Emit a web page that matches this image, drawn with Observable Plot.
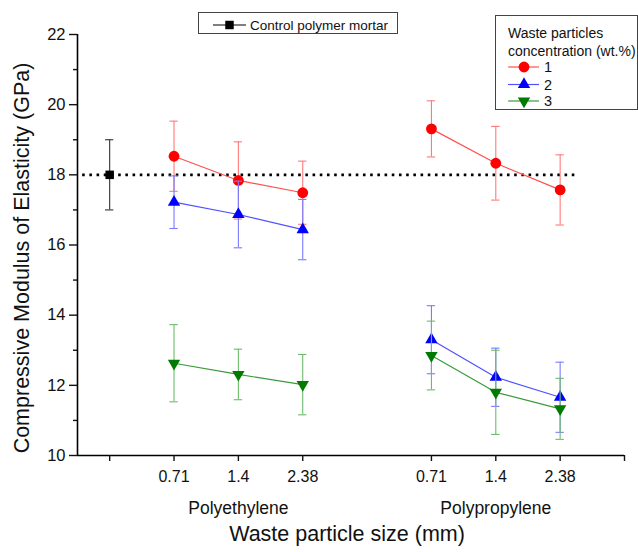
<!DOCTYPE html>
<html>
<head>
<meta charset="utf-8">
<script src="https://cdn.jsdelivr.net/npm/d3@7"></script>
<script src="https://cdn.jsdelivr.net/npm/@observablehq/plot@0.6"></script>
<style>
  html, body { margin: 0; padding: 0; background: #fff; }
  #chart { width: 638px; height: 552px; }
  svg { font-family: Arial, "Liberation Sans", sans-serif; }
</style>
</head>
<body>
<div id="chart"></div>
<script>
// ---- data ----
const materials = ["Polyethylene", "Polypropylene"];
const sizeLabels = ["0.71", "1.4", "2.38"];
const concentrations = ["1", "2", "3"];
const control = {value: 18.0, err: 1.0};
// mean values per concentration: [PE 0.71, PE 1.4, PE 2.38, PP 0.71, PP 1.4, PP 2.38]
const mean1 = [18.53, 17.84, 17.49, 19.31, 18.33, 17.57];
const err1  = [1.0, 1.1, 0.9, 0.8, 1.05, 1.0];
const mean2 = [17.22, 16.87, 16.44, 13.30, 12.23, 11.66];
const err2  = [0.75, 0.95, 0.86, 0.97, 0.83, 1.0];
const mean3 = [12.63, 12.31, 12.02, 12.85, 11.80, 11.33];
const err3  = [1.1, 0.72, 0.86, 0.98, 1.2, 0.87];
const yTicks = [10, 12, 14, 16, 18, 20, 22];
const yMinor = [11, 13, 15, 17, 19, 21];

// ---- styling ----
const markerColor = {"1": "#ff0000", "2": "#0000ff", "3": "#007a00"};
const lineColor = {"1": "#ff5050", "2": "#5050ff", "3": "#3a9a3a"};
const errColor = {"1": "#ff7a7a", "2": "#7a7aff", "3": "#6cbc6c"};
const symbolOf = {"1": "circle", "2": "triangle", "3": "triangle"};
const rotateOf = {"1": 0, "2": 0, "3": 180};

// slot positions on x: control at 1, PE sizes at 2..4, PP sizes at 6..8
const slotOf = (m, s) => (m === 0 ? 2 : 6) + s;

const means = [mean1, mean2, mean3];
const errs = [err1, err2, err3];
const rows = [];
concentrations.forEach((c, ci) => {
  materials.forEach((mat, mi) => {
    sizeLabels.forEach((sz, si) => {
      const k = mi * 3 + si;
      rows.push({conc: c, material: mat, size: sz, x: slotOf(mi, si),
        y: means[ci][k], lo: means[ci][k] - errs[ci][k], hi: means[ci][k] + errs[ci][k]});
    });
  });
});
const ctrl = [{x: 1, y: control.value, lo: control.value - control.err, hi: control.value + control.err}];
const xTickVals = [1, 2, 3, 4, 6, 7, 8, 9];
const xTickText = new Map();
materials.forEach((m, mi) => sizeLabels.forEach((s, si) => xTickText.set(slotOf(mi, si), s)));
const groupLabels = materials.map((m, mi) => ({x: slotOf(mi, 1), label: m}));

const cap = 0.065;
const marks = [
  // reference dotted line at control value
  Plot.ruleY([control.value], {x1: 0.58, x2: 8.23, stroke: "#000", strokeWidth: 2.6, strokeDasharray: "2.6,4.6"}),
  // axes lines
  Plot.ruleX([0.5], {y1: 10, y2: 22, stroke: "#000", strokeWidth: 1.6}),
  Plot.ruleY([10], {x1: 0.5, x2: 9, stroke: "#000", strokeWidth: 1.6}),
  Plot.axisY({ticks: yTicks, tickSize: 8, tickPadding: 4, label: null, tickFormat: d => d, strokeWidth: 1.4, fontSize: 16.5}),
  Plot.axisY({ticks: yMinor, tickSize: 4, tickFormat: () => "", label: null, strokeWidth: 1.4}),
  Plot.axisX({ticks: xTickVals, tickSize: 6, tickPadding: 9, label: null, fontSize: 16,
    tickFormat: d => xTickText.get(d) ?? "", strokeWidth: 1.4}),
  Plot.text(groupLabels, {x: "x", y: 10, text: "label", dy: 53, fontSize: 17.5, fill: "#111"}),
];
// per-series error bars, lines, markers
concentrations.forEach(c => {
  const data = rows.filter(r => r.conc === c);
  marks.push(
    Plot.ruleX(data, {x: "x", y1: "lo", y2: "hi", stroke: errColor[c], strokeWidth: 1.1}),
    Plot.ruleY(data, {y: "lo", x1: d => d.x - cap, x2: d => d.x + cap, stroke: errColor[c], strokeWidth: 1.1}),
    Plot.ruleY(data, {y: "hi", x1: d => d.x - cap, x2: d => d.x + cap, stroke: errColor[c], strokeWidth: 1.1}),
    Plot.line(data, {x: "x", y: "y", z: "material", stroke: lineColor[c], strokeWidth: 1.2}),
    Plot.dot(data, {x: "x", y: "y", symbol: symbolOf[c], r: c === "1" ? 5.4 : 4.6, rotate: rotateOf[c], fill: markerColor[c], stroke: "none"})
  );
});
// control
marks.push(
  Plot.ruleX(ctrl, {x: "x", y1: "lo", y2: "hi", stroke: "#333", strokeWidth: 1.1}),
  Plot.ruleY(ctrl, {y: "lo", x1: d => d.x - cap, x2: d => d.x + cap, stroke: "#333", strokeWidth: 1.1}),
  Plot.ruleY(ctrl, {y: "hi", x1: d => d.x - cap, x2: d => d.x + cap, stroke: "#333", strokeWidth: 1.1}),
  Plot.dot(ctrl, {x: "x", y: "y", symbol: "square", r: 4.8, fill: "#000"}),
  // axis titles
  Plot.text(["Compressive Modulus of Elasticity (GPa)"], {frameAnchor: "left", dx: -55, dy: 13, rotate: -90, textAnchor: "middle", fontSize: 21.5, fill: "#111", text: d => d}),
  Plot.text(["Waste particle size (mm)"], {frameAnchor: "bottom", dy: 85, dx: -4, fontSize: 21.5, fill: "#111", text: d => d})
);

const chart = Plot.plot({
  width: 638,
  height: 552,
  marginLeft: 77,
  marginRight: 14,
  marginTop: 34,
  marginBottom: 97,
  x: {domain: [0.5, 9], axis: null},
  y: {domain: [10, 22], axis: null},
  style: {background: "#fff", color: "#111", fontFamily: "Arial, 'Liberation Sans', sans-serif"},
  marks
});
document.getElementById("chart").appendChild(chart);

const svg = d3.select(chart);

// ---- legends (drawn into the same SVG) ----
const sym = (type, size) => d3.symbol(type, size)();
// control legend
const lg1 = svg.append("g").attr("text-anchor", "start");
lg1.append("rect").attr("x", 198.5).attr("y", 12.5).attr("width", 199).attr("height", 21)
  .attr("fill", "#fff").attr("stroke", "#444").attr("stroke-width", 1);
lg1.append("line").attr("x1", 213).attr("x2", 246).attr("y1", 25).attr("y2", 25).attr("stroke", "#000").attr("stroke-width", 1.2);
lg1.append("path").attr("d", sym(d3.symbolSquare, 72)).attr("transform", "translate(229.5,25)").attr("fill", "#000");
lg1.append("text").attr("x", 250).attr("y", 29.5).attr("font-size", 13.5).attr("fill", "#111").text("Control polymer mortar");
// concentration legend
const lg2 = svg.append("g").attr("text-anchor", "start");
lg2.append("rect").attr("x", 495.5).attr("y", 15.5).attr("width", 142).attr("height", 94)
  .attr("fill", "#fff").attr("stroke", "#444").attr("stroke-width", 1);
lg2.append("text").attr("x", 508).attr("y", 38).attr("font-size", 14).attr("fill", "#111").text("Waste particles");
lg2.append("text").attr("x", 508).attr("y", 56).attr("font-size", 14).attr("fill", "#111").text("concentration (wt.%)");
const lgY = [67, 84.5, 101];
concentrations.forEach((c, i) => {
  const y = lgY[i];
  lg2.append("line").attr("x1", 508).attr("x2", 539).attr("y1", y).attr("y2", y).attr("stroke", lineColor[c]).attr("stroke-width", 1.2);
  const t = c === "1" ? d3.symbolCircle : d3.symbolTriangle;
  lg2.append("path").attr("d", sym(t, c === "1" ? 92 : 66))
    .attr("transform", `translate(524,${y}) rotate(${rotateOf[c]})`).attr("fill", markerColor[c]);
  lg2.append("text").attr("x", 544).attr("y", y + 5).attr("font-size", 14.5).attr("fill", "#111").text(c);
});
</script>
</body>
</html>
